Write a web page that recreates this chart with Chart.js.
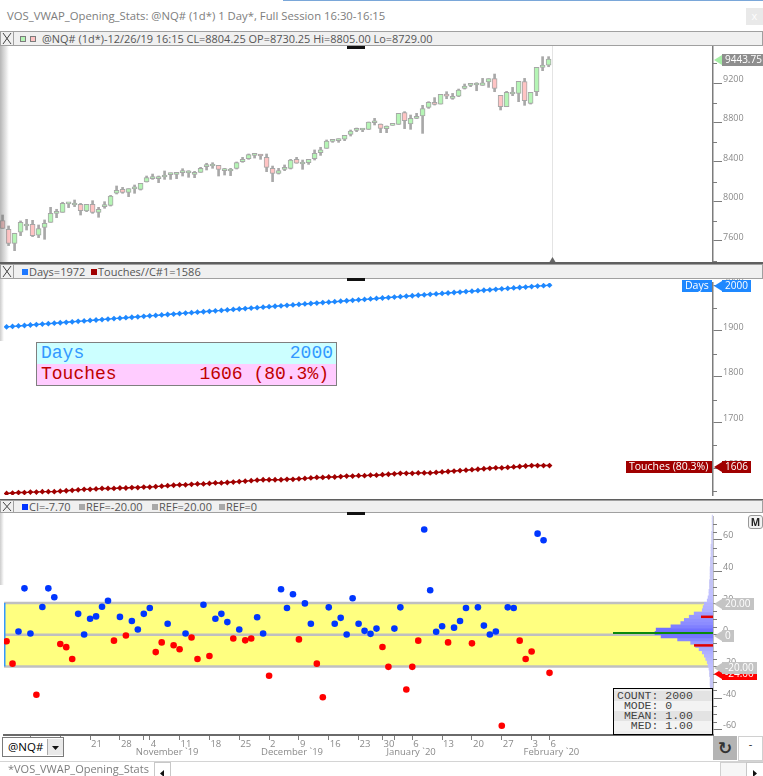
<!DOCTYPE html>
<html>
<head>
<meta charset="utf-8">
<title>VOS_VWAP_Opening_Stats</title>
<script src="https://cdn.jsdelivr.net/npm/chart.js@4.4.1/dist/chart.umd.min.js"></script>
<style>
  html, body { margin: 0; padding: 0; }
  body { width: 763px; height: 776px; position: relative; overflow: hidden; background: #fff; font-family: 'Open Sans', sans-serif; }
  .a { position: absolute; }
  .hdr { position: absolute; left: 0; width: 761px; height: 13px; background: #f0f0f0; border: 1px solid #a0a0a0; font-size: 11px; color: #555; line-height: 13px; white-space: nowrap; }
  .hdr .t { position: absolute; top: 0; }
  .hdr .sq { position: absolute; top: 4px; width: 6px; height: 6px; box-sizing: border-box; }
  .xbox { position: absolute; left: 0; top: 0; width: 12px; height: 13px; border-right: 1px solid #a0a0a0; }
  canvas { position: absolute; left: 0; }
  .cur { position: absolute; left: 347px; width: 18px; height: 3px; background: #111; }
  .dark { position: absolute; left: 0; width: 763px; background: #5f5f5f; }
  .mono { font-family: 'Liberation Mono', monospace; }
</style>
</head>
<body>

<!-- window title -->
<div class="a" style="left:283px;top:0;width:480px;height:1px;background:#7aa7d9"></div>
<div class="a" id="title" style="left:7px;top:8px;font-size:11px;color:#7d7d7d;white-space:nowrap">VOS_VWAP_Opening_Stats: @NQ# (1d*) 1 Day*, Full Session 16:30-16:15</div>
<div class="a" style="left:746px;top:8px;width:17px;height:17px;background:#e9e9e9;color:#fdfdfd;font-size:11px;line-height:16px;text-align:center">x</div>

<!-- panel 1 header -->
<div class="hdr" style="top:31px">
  <div class="xbox"><svg width="12" height="13"><path d="M2 1 L10 12 M10 1 L2 12" stroke="#444" stroke-width="1"/></svg></div>
  <div class="sq" style="left:19px;background:#b5f5b5;border:1px solid #7c7c7c"></div>
  <div class="sq" style="left:29px;background:#ffc4c4;border:1px solid #7c7c7c"></div>
  <span class="t" id="h1" style="left:41px">@NQ# (1d*)-12/26/19 16:15 CL=8804.25 OP=8730.25 Hi=8805.00 Lo=8729.00</span>
</div>
<div class="cur" style="top:46px"></div>

<div class="dark" style="top:262px;height:2px"></div>
<!-- panel 2 header -->
<div class="hdr" style="top:264px;height:13px">
  <div class="xbox"><svg width="12" height="13"><path d="M2 1 L10 12 M10 1 L2 12" stroke="#444" stroke-width="1"/></svg></div>
  <div class="sq" style="left:21px;background:#1e78ff"></div>
  <span class="t" style="left:28px">Days=1972</span>
  <div class="sq" style="left:90px;background:#a00000"></div>
  <span class="t" style="left:97px">Touches//C#1=1586</span>
</div>

<div class="dark" style="top:499px;height:1px"></div>
<!-- panel 3 header -->
<div class="hdr" style="top:500px;height:11px;line-height:11px">
  <div class="xbox" style="height:11px"><svg width="12" height="11"><path d="M2 1 L10 10 M10 1 L2 10" stroke="#444" stroke-width="1"/></svg></div>
  <div class="sq" style="left:21px;top:3px;background:#0033ff"></div>
  <span class="t" style="left:28px">CI=-7.70</span>
  <div class="sq" style="left:78px;top:3px;background:#a8a8a8"></div>
  <span class="t" style="left:85px">REF=-20.00</span>
  <div class="sq" style="left:151px;top:3px;background:#a8a8a8"></div>
  <span class="t" style="left:158px">REF=20.00</span>
  <div class="sq" style="left:218px;top:3px;background:#a8a8a8"></div>
  <span class="t" style="left:225px">REF=0</span>
</div>

<canvas id="c1" width="763" height="216" style="top:46px"></canvas>
<canvas id="c2" width="763" height="220" style="top:279px"></canvas>
<canvas id="c3" width="763" height="249" style="top:513px"></canvas>
<canvas id="c4" width="713" height="222" style="top:513px"></canvas>

<div class="cur" style="top:278px"></div>
<div class="cur" style="top:512px"></div>

<!-- left edge shading -->
<div class="a" style="left:0;top:46px;width:9px;height:216px;background:linear-gradient(to right,rgba(110,110,110,0.5),rgba(110,110,110,0))"></div>
<div class="a" style="left:0;top:279px;width:4px;height:62px;background:linear-gradient(to right,rgba(110,110,110,0.35),rgba(110,110,110,0))"></div>
<div class="a" style="left:0;top:513px;width:4px;height:72px;background:linear-gradient(to right,rgba(110,110,110,0.35),rgba(110,110,110,0))"></div>

<!-- Days / Touches box -->
<div class="a mono" style="left:36px;top:342px;width:299px;height:42px;border:1px solid #7f7f7f;font-size:18px">
  <div style="height:21px;line-height:21px;background:#ccffff;color:#3399ff;display:flex;justify-content:space-between;padding:0 3px 0 4px"><span>Days</span><span id="ibDays"></span></div>
  <div style="height:21px;line-height:21px;background:#ffccff;color:#c00000;display:flex;justify-content:space-between;padding:0 7px 0 4px"><span>Touches</span><span id="ibTouch"></span></div>
</div>

<!-- stats box -->
<div class="a mono" id="stat" style="left:613px;top:688px;width:98px;height:45px;border:1px solid #000;background:#efefef;font-size:11.5px;color:#444;white-space:pre"></div>

<!-- M button -->
<div class="a" style="left:748px;top:515px;width:13px;height:12px;border:1px solid #999;border-radius:3px;background:#f3f3f3;font-size:10px;line-height:12px;text-align:center;color:#222;font-weight:bold">M</div>

<!-- symbol dropdown -->
<div class="a" style="left:0;top:737px;width:80px;height:24px;background:#fff"></div>
<div class="a" style="left:2px;top:737px;width:60px;height:18px;border:1px solid #7a7a7a;background:#fff">
  <span class="a" style="left:5px;top:0;font-size:11.5px;line-height:18px;color:#000">@NQ#</span>
  <div class="a" style="left:44px;top:1px;width:15px;height:16px;background:#e9e9e9;border-left:1px solid #aaa">
    <svg width="15" height="16"><path d="M4 6 L11 6 L7.5 10 Z" fill="#111"/></svg>
  </div>
</div>

<!-- bottom right buttons -->
<div class="a" style="left:713px;top:736px;width:24px;height:24px;background:#b4b4b4;font-family:'DejaVu Sans';font-size:17px;line-height:24px;text-align:center;color:#333;font-weight:bold">&#x21BB;</div>
<div class="a" style="left:738px;top:736px;width:23px;height:23px;background:#fff;border:1px solid #d0d0d0;font-size:11px;line-height:14px;text-align:center;color:#222">-</div>

<!-- bottom tab bar -->
<div class="a" style="left:0;top:761px;width:763px;height:1px;background:#d4d4d4"></div>
<div class="a" style="left:8px;top:761px;font-size:11px;line-height:15px;color:#7d7d7d;white-space:nowrap">*VOS_VWAP_Opening_Stats</div>
<div class="a" style="left:154px;top:762px;width:15px;height:13px;border:1px solid #c8c8c8;background:#fff"><svg width="15" height="13"><path d="M5 6.5 L9 3 L9 10 Z" fill="#111"/></svg></div>
<div class="a" style="left:720px;top:762px;width:25px;height:13px;border:1px solid #d0d0d0;background:#f6f6f6"></div>
<div class="a" style="left:746px;top:762px;width:16px;height:13px;border:1px solid #c8c8c8;background:#fff"><svg width="16" height="13"><path d="M10 6.5 L6 3 L6 10 Z" fill="#111"/></svg></div>

<script>
// ---- data ----
const dates = [
  '10/1','10/2','10/3','10/4','10/7','10/8','10/9','10/10','10/11','10/14','10/15','10/16','10/17','10/18','10/21','10/22','10/23','10/24','10/25','10/28','10/29','10/30','10/31',
  '11/1','11/4','11/5','11/6','11/7','11/8','11/11','11/12','11/13','11/14','11/15','11/18','11/19','11/20','11/21','11/22','11/25','11/26','11/27','11/28','11/29',
  '12/2','12/3','12/4','12/5','12/6','12/9','12/10','12/11','12/12','12/13','12/16','12/17','12/18','12/19','12/20','12/23','12/24','12/26','12/27','12/30','12/31',
  '1/1','1/2','1/3','1/6','1/7','1/8','1/9','1/10','1/13','1/14','1/15','1/16','1/17','1/20','1/21','1/22','1/23','1/24','1/27','1/28','1/29','1/30','1/31',
  '2/3','2/4','2/5','2/6'
];
const monthNames = ['October `19', 'November `19', 'December `19', 'January `20', 'February `20'];

const opens = [7806,7718,7576,7688,7752,7769,7658,7738,7789,7880,7890,7975,7964,7971,7904,7971,7890,7948,7961,8083,
  8123,8093,8127,8123,8197,8231,8231,8248,8272,8275,8292,8289,8275,8295,8353,8359,8366,8312,8309,8336,
  8403,8434,8467,8467,8447,8336,8285,8326,8336,8427,8380,8393,8434,8495,8538,8609,8616,8630,8680,8721,
  8724,8730.25,8798,8785,8738,8771,8781,8900,8785,8842,8866,8954,9004,8987,9089,9045,9068,9146,9176,9180,
  9176,9210,9244,9075,8960,9089,9095,9214,8994,9112,9359,9382];
const highs = [7863,7752,7678,7803,7819,7809,7762,7813,7941,7921,7992,7985,8015,7981,7971,8008,7941,7998,8062,8157,
  8143,8130,8167,8184,8258,8278,8258,8309,8289,8289,8332,8312,8305,8346,8387,8393,8366,8336,8336,8400,
  8447,8481,8478,8478,8481,8359,8336,8370,8427,8447,8420,8427,8522,8549,8623,8623,8636,8670,8724,8744,
  8738,8805,8842,8785,8765,8771,8893,8910,8876,8893,8974,9011,9052,9085,9112,9095,9139,9190,9197,9203,
  9247,9244,9291,9075,9116,9156,9217,9247,9105,9359,9467,9467];
const lows = [7728,7553,7502,7654,7711,7644,7634,7617,7789,7836,7890,7938,7948,7863,7897,7880,7840,7931,7954,8076,
  8083,8049,8083,8116,8197,8224,8191,8224,8224,8231,8258,8245,8241,8295,8319,8336,8258,8268,8262,8329,
  8397,8427,8440,8427,8302,8201,8278,8312,8329,8387,8326,8376,8420,8467,8538,8599,8599,8616,8663,8707,
  8707,8729,8775,8697,8697,8771,8781,8738,8731,8839,8690,8943,8977,8987,9041,9035,9062,9139,9163,9122,
  9176,9156,9112,8927,8960,9072,9011,8974,8987,9072,9325,9365];
const closes = [7728,7576,7678,7789,7765,7654,7725,7779,7880,7890,7981,7981,7971,7907,7971,7890,7921,7958,8056,8113,
  8093,8130,8137,8184,8241,8238,8245,8258,8278,8278,8299,8295,8285,8336,8363,8366,8326,8319,8319,8393,
  8427,8474,8474,8461,8346,8285,8312,8336,8420,8387,8387,8427,8488,8522,8613,8613,8619,8670,8714,8727,
  8727,8804.25,8808,8741,8765,8771,8893,8819,8842,8849,8940,9004,8984,9085,9068,9055,9129,9170,9183,9187,
  9203,9244,9146,8960,9105,9095,9217,9021,9105,9359,9382,9443.75];

const days = [1909,1910,1911,1912,1913,1914,1915,1916,1917,1918,1919,1920,1921,1922,1923,1924,1925,1926,1927,1928,
  1929,1930,1931,1932,1933,1934,1935,1936,1937,1938,1939,1940,1941,1942,1943,1944,1945,1946,1947,1948,
  1949,1950,1951,1952,1953,1954,1955,1956,1957,1958,1959,1960,1961,1962,1963,1964,1965,1966,1967,1968,
  1969,1970,1971,1972,1973,1974,1975,1976,1977,1978,1979,1980,1981,1982,1983,1984,1985,1986,1987,1988,
  1989,1990,1991,1992,1993,1994,1995,1996,1997,1998,1999,2000];
const touches = [1545,1546,1547,1547,1548,1548,1549,1549,1549,1550,1551,1552,1553,1554,1554,1555,1556,1556,1556,1557,
  1557,1558,1558,1559,1559,1560,1561,1562,1563,1564,1564,1565,1566,1566,1567,1568,1568,1569,1570,1571,
  1572,1573,1574,1575,1575,1575,1575,1576,1576,1577,1578,1579,1580,1580,1581,1581,1582,1583,1583,1584,
  1584,1585,1585,1586,1587,1588,1589,1589,1589,1590,1590,1590,1591,1592,1593,1594,1595,1596,1597,1598,
  1599,1600,1601,1601,1602,1603,1604,1605,1606,1606,1606,1606];

const diffs = [-4.1,-18.2,2.1,29.3,0.8,-37.8,17.5,29.3,23.7,-5.8,
  -7.8,-15.3,13.2,0.2,10.1,11.6,17.7,21.5,-3.7,11.3,
  -0.4,8.7,3.3,13.2,16.9,-10.9,-4.8,7.0,-6.6,-9.1,
  0.8,-1.7,-15.3,19.0,-13.4,10.1,13.2,8.0,-2.3,3.3,
  -3.5,-2.3,11.1,0.8,-25.8,null,28.7,16.9,25.6,-2.9,
  19.8,7.0,-18.2,-39.4,17.3,7.0,10.7,0.2,23.1,7.0,
  2.5,0.6,3.9,-7.7,-20.2,3.9,17.3,-34.5,-20.2,-3.7,
  66.4,28.1,1.9,5.4,-4.8,4.5,8.7,16.9,-5.4,17.3,
  5.8,0.2,2.1,-57.4,17.3,16.9,-3.7,-15.3,-10.5,63.8,
  59.6,-24];

const histBins = [-62,-60,-58,-56,-54,-52,-50,-48,-46,-44,-42,-40,-38,-36,-34,-32,-30,-28,-26,-24,-22,-20,-18,-16,-14,-12,-10,-8,-6,-4,-2,
  0,2,4,6,8,10,12,14,16,18,20,22,24,26,28,30,32,34,36,38,40,42,44,46,48,50,52,54,56,58,60,62,64,66,68,70,72];
const histCounts = [3,3,5,3,5,5,5,5,7,7,7,7,7,9,9,10,10,10,12,12,14,17,20,25,30,37,48,60,77,122,179,
  200,196,145,111,99,82,65,37,34,30,20,17,14,14,12,12,12,10,10,10,10,9,9,9,7,7,7,7,5,5,5,5,3,3,3,3,3];
const ciMarks = [10, -7.7];
const refLevels = [-20, 20, 0];
const stats = { COUNT: '2000', MODE: '0', MEAN: '1.00', MED: '1.00' };

const p1Ticks = [7600, 8000, 8400, 8800, 9200];
const p1Minor = [7400, 7800, 8200, 8600, 9000, 9400];
const p2Ticks = [1600, 1700, 1800, 1900, 2000];
const p2Minor = [1550, 1650, 1750, 1850, 1950];
const p3Ticks = [-60, -40, -20, 0, 20, 40, 60];
const p3Minor = [-55, -50, -45, -35, -30, -25, -15, -10, -5, 5, 10, 15, 25, 30, 35, 45, 50, 55, 65, 70];

// ---- layout / style ----
const X_MIN = -0.43, X_MAX = 118.4;
const AX_COL = '#8a8a8a', AX_LINE = '#7c7c7c';
const FONT_AX = { family: "'Open Sans', sans-serif", size: 9 };
const UP = '#b5f5b5', DN = '#ffc4c4';
const BLUE2 = '#1e88ff', RED2 = '#a00000';
const BLUE3 = '#0036ff', RED3 = '#ff0000';
Chart.defaults.font.family = "'Open Sans', sans-serif";

const last = closes.length - 1;
const idx = dates.map((d, i) => i);

// fit the header texts to their widths in the picture
function fitWidth(id, w) {
  const el = document.getElementById(id);
  const fs = parseFloat(getComputedStyle(el).fontSize);
  el.style.fontSize = (fs * w / el.getBoundingClientRect().width) + 'px';
}
fitWidth('title', 379);
fitWidth('h1', 391);

document.getElementById('ibDays').textContent = days[last];
document.getElementById('ibTouch').textContent = touches[last] + ' (' + (touches[last] / days[last] * 100).toFixed(1) + '%)';
const statBg = ['#e3e3e3', '#f3f3f3'];
document.getElementById('stat').innerHTML = Object.keys(stats).map((k, i) =>
  '<div style="height:10px;line-height:10px;padding-left:3px;background:' + statBg[i % 2] + (i === 0 ? ';margin-top:2px' : '') + '">' +
  (k + ':').padStart(6, ' ') + ' ' + stats[k] + '</div>').join('');

// ---- helpers ----
function xHidden() {
  return { type: 'linear', min: X_MIN, max: X_MAX, display: false, offset: false, grid: { offset: false } };
}
function yRight(min, max, majors) {
  return {
    type: 'linear', position: 'right', min, max, beginAtZero: false,
    afterBuildTicks: s => { s.ticks = majors.map(v => ({ value: v })); },
    afterFit: s => { s.width = 50; s.paddingTop = 0; s.paddingBottom = 0; },
    grid: { drawOnChartArea: false, drawTicks: true, tickLength: 9, tickColor: AX_LINE, tickWidth: 1 },
    border: { display: true, color: AX_LINE, width: 1.5 },
    ticks: { color: AX_COL, font: FONT_AX, padding: 1, labelOffset: -4, callback: v => String(v) }
  };
}
const baseOpts = {
  responsive: false, animation: false, events: [], layout: { padding: 0 },
  plugins: { legend: { display: false }, tooltip: { enabled: false } }
};

function minorPlugin(values) {
  return { id: 'minor', afterDraw(chart) {
    const s = chart.scales.y, ctx = chart.ctx;
    ctx.save(); ctx.strokeStyle = AX_LINE; ctx.lineWidth = 1;
    values.forEach(v => {
      const y = Math.round(s.getPixelForValue(v)) + 0.5;
      if (y < s.top || y > s.bottom) return;
      ctx.beginPath(); ctx.moveTo(s.left, y); ctx.lineTo(s.left + 4, y); ctx.stroke();
    });
    ctx.restore();
  }};
}

function tagsPlugin(items) {
  return { id: 'tags', afterDraw(chart) {
    const ctx = chart.ctx, ys = chart.scales.y, ax = chart.chartArea.right;
    ctx.save(); ctx.textBaseline = 'middle'; ctx.textAlign = 'left';
    items.forEach(t => {
      ctx.font = (t.size || 10) + "px 'Open Sans'";
      const y = Math.round(ys.getPixelForValue(t.value)) + 1;
      const w = Math.ceil(ctx.measureText(t.text).width) + 6, h = 12;
      if (t.inside) {
        ctx.fillStyle = t.bg; ctx.fillRect(ax - 1 - w, y - h / 2, w, h);
        ctx.fillStyle = t.fg; ctx.fillText(t.text, ax - 1 - w + 3, y + 0.5);
      } else {
        const x0 = ax + 1;
        ctx.fillStyle = t.arrow || t.bg;
        ctx.beginPath(); ctx.moveTo(x0, y); ctx.lineTo(x0 + 8, y - 5); ctx.lineTo(x0 + 8, y + 5); ctx.closePath(); ctx.fill();
        ctx.fillStyle = t.bg; ctx.fillRect(x0 + 8, y - h / 2, w, h);
        ctx.fillStyle = t.fg; ctx.fillText(t.text, x0 + 11, y + 0.5);
      }
    });
    ctx.restore();
  }};
}

// ---- panel 1: candles ----
const curBarPlugin = { id: 'curBar', beforeDatasetsDraw(chart) {
  const ctx = chart.ctx, x = Math.round(chart.scales.x.getPixelForValue(last + 0.5)) + 0.5, a = chart.chartArea;
  ctx.save();
  ctx.strokeStyle = '#e4e4e4'; ctx.lineWidth = 1;
  ctx.beginPath(); ctx.moveTo(x, a.top); ctx.lineTo(x, a.bottom); ctx.stroke();
  ctx.fillStyle = '#666';
  ctx.beginPath(); ctx.moveTo(x - 3, a.bottom); ctx.lineTo(x + 3, a.bottom); ctx.lineTo(x, a.bottom - 5); ctx.closePath(); ctx.fill();
  ctx.restore();
}};

new Chart(document.getElementById('c1'), {
  type: 'bar',
  data: { datasets: [
    { data: idx.map(i => ({ x: i, y: [opens[i], closes[i]] })),
      backgroundColor: idx.map(i => closes[i] >= opens[i] ? UP : DN),
      borderColor: '#a6a6a6', borderWidth: 1, borderSkipped: false, barThickness: 5, minBarLength: 2, grouped: false },
    { data: idx.map(i => ({ x: i, y: [lows[i], highs[i]] })),
      backgroundColor: '#a8a8a8', borderWidth: 0, barThickness: 2, grouped: false }
  ]},
  options: { ...baseOpts, scales: { x: xHidden(), y: yRight(7387, 9575, p1Ticks) } },
  plugins: [curBarPlugin, minorPlugin(p1Minor),
    tagsPlugin([{ value: closes[last], text: closes[last].toFixed(2), bg: '#8e8e8e', fg: '#fff', arrow: '#a6eea6' }])]
});

// ---- panel 2: days / touches ----
function diamondSet(vals, color) {
  return { data: vals.map((v, i) => ({ x: i, y: v })), borderColor: color, backgroundColor: color,
    borderWidth: 1.4, pointStyle: 'rectRot', pointRadius: 2.9, pointBorderWidth: 0, tension: 0 };
}
const pct = (touches[last] / days[last] * 100).toFixed(1);
new Chart(document.getElementById('c2'), {
  type: 'line',
  data: { datasets: [diamondSet(days, BLUE2), diamondSet(touches, RED2)] },
  options: { ...baseOpts, scales: { x: xHidden(), y: yRight(1541.7, 2004.8, p2Ticks) } },
  plugins: [minorPlugin(p2Minor), tagsPlugin([
    { value: days[last], text: 'Days', bg: BLUE2, fg: '#fff', inside: true, size: 10.5 },
    { value: days[last], text: String(days[last]), bg: BLUE2, fg: '#fff' },
    { value: touches[last], text: 'Touches (' + pct + '%)', bg: RED2, fg: '#fff', inside: true, size: 10.5 },
    { value: touches[last], text: String(touches[last]), bg: RED2, fg: '#fff' }
  ])]
});

// ---- panel 3: opening distance scatter ----
const dObj = dates.map(s => { const [m, d] = s.split('/').map(Number); return new Date(m >= 10 ? 2019 : 2020, m - 1, d); });
const axisTicks = [], monthStarts = [];
dObj.forEach((d, i) => {
  const newMonth = i === 0 || d.getMonth() !== dObj[i - 1].getMonth();
  if (newMonth) monthStarts.push(i);
  if (d.getDay() === 1 || (newMonth && i > 0) || i === last) axisTicks.push(i);
});
const tickText = i => (dObj[i].getDay() === 1 || i === last) ? String(dObj[i].getDate()) : '';

const bandPlugin = { id: 'band', beforeDatasetsDraw(chart) {
  const ctx = chart.ctx, y = chart.scales.y, a = chart.chartArea;
  const top = y.getPixelForValue(Math.max(...refLevels)), bot = y.getPixelForValue(Math.min(...refLevels));
  ctx.save();
  ctx.fillStyle = '#ffff80'; ctx.fillRect(a.left, top, a.right - a.left, bot - top);
  ctx.strokeStyle = '#c0c0c0'; ctx.lineWidth = 2.5;
  refLevels.forEach(r => { const py = y.getPixelForValue(r); ctx.beginPath(); ctx.moveTo(a.left, py); ctx.lineTo(a.right, py); ctx.stroke(); });
  ctx.strokeStyle = '#3399ff'; ctx.lineWidth = 1.5;
  ctx.beginPath(); ctx.moveTo(a.left + 0.75, top); ctx.lineTo(a.left + 0.75, bot); ctx.stroke();
  ctx.restore();
}};
const monthPlugin = { id: 'months', afterDraw(chart) {
  const ctx = chart.ctx, x = chart.scales.x;
  ctx.save(); ctx.font = "9.5px 'Open Sans'"; ctx.fillStyle = AX_COL; ctx.textAlign = 'left'; ctx.textBaseline = 'middle';
  monthStarts.forEach((m, k) => ctx.fillText(monthNames[k], x.getPixelForValue(m) - 8, x.top + 17));
  ctx.restore();
}};

new Chart(document.getElementById('c3'), {
  type: 'scatter',
  data: { datasets: [{
    data: diffs.map((v, i) => ({ x: i, y: v })),
    pointBackgroundColor: diffs.map(v => v >= 0 ? BLUE3 : RED3),
    pointBorderWidth: 0, pointRadius: 3.3, showLine: false
  }]},
  options: { ...baseOpts, scales: {
    x: { type: 'linear', position: 'bottom', min: X_MIN, max: X_MAX, offset: false,
      afterBuildTicks: s => { s.ticks = axisTicks.map(v => ({ value: v })); },
      afterFit: s => { s.height = 27; s.paddingLeft = 0; s.paddingRight = 0; },
      grid: { drawOnChartArea: false, offset: false, tickLength: 5, tickColor: AX_LINE },
      border: { display: true, color: '#6a6a6a', width: 2 },
      ticks: { align: 'start', labelOffset: 1, padding: -1, maxRotation: 0, minRotation: 0, autoSkip: false,
        color: AX_COL, font: { size: 9.5 }, callback: v => tickText(v) } },
    y: yRight(-63.2, 74.3, p3Ticks)
  }},
  plugins: [bandPlugin, monthPlugin, minorPlugin(p3Minor), tagsPlugin([
    { value: diffs[last], text: diffs[last].toFixed(2), bg: '#ff0000', fg: '#fff' },
    { value: -20, text: '-20.00', bg: '#c4c4c4', fg: '#fff' },
    { value: 0, text: '0', bg: '#c4c4c4', fg: '#fff' },
    { value: 20, text: '20.00', bg: '#c4c4c4', fg: '#fff' }
  ])]
});

// ---- distribution histogram on the right edge of panel 3 ----
function shade(c) {
  const t = Math.min(1, Math.sqrt(c / 200));
  const r = Math.round(222 - 110 * t);
  return 'rgb(' + r + ',' + r + ',' + (t < 0.25 ? 245 : 255) + ')';
}
const histMarks = { id: 'histMarks', afterDatasetsDraw(chart) {
  const ctx = chart.ctx, y = chart.scales.y, a = chart.chartArea;
  ctx.save();
  ctx.strokeStyle = '#0a8a0a'; ctx.lineWidth = 2;
  const y0 = y.getPixelForValue(0);
  ctx.beginPath(); ctx.moveTo(a.right - 100, y0); ctx.lineTo(a.right, y0); ctx.stroke();
  ctx.strokeStyle = '#e00000'; ctx.lineWidth = 2.5;
  ciMarks.forEach((v, k) => { const py = y.getPixelForValue(v); ctx.beginPath(); ctx.moveTo(a.right - (k ? 19 : 12), py); ctx.lineTo(a.right, py); ctx.stroke(); });
  ctx.restore();
}};
new Chart(document.getElementById('c4'), {
  type: 'bar',
  data: { datasets: [{
    data: histBins.map((b, i) => ({ x: histCounts[i], y: b })),
    backgroundColor: histCounts.map(shade), borderWidth: 0, barPercentage: 1, categoryPercentage: 1
  }]},
  options: { ...baseOpts, indexAxis: 'y', scales: {
    x: { type: 'linear', min: 0, max: 2459, reverse: true, display: false },
    y: { type: 'linear', min: -63.2, max: 74.3, display: false, offset: false, grid: { offset: false } }
  }},
  plugins: [histMarks]
});
</script>
</body>
</html>
